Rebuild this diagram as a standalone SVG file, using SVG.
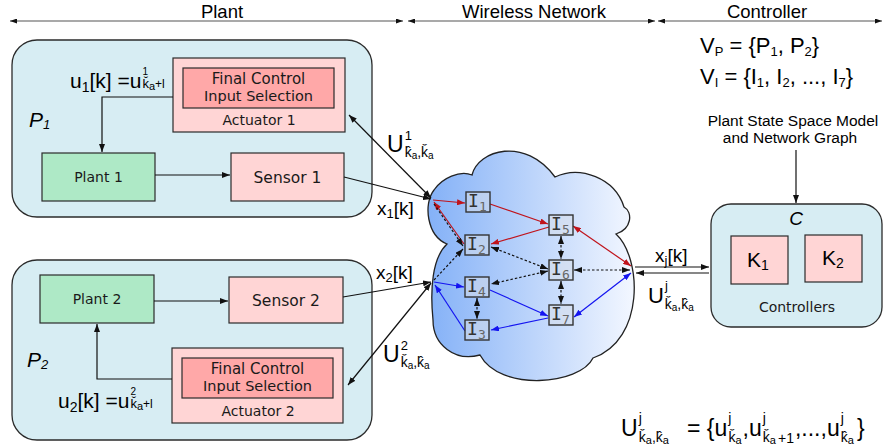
<svg xmlns="http://www.w3.org/2000/svg" width="886" height="446" viewBox="0 0 886 446">
<defs>
<style>
.panel{fill:#d7edf3;stroke:#2b2b2b;stroke-width:1.3}
.pink{fill:#ffd5d5;stroke:#2b2b2b;stroke-width:1.2}
.sel{fill:#ffa8a8;stroke:#2b2b2b;stroke-width:1.2}
.green{fill:#aee9c6;stroke:#2b2b2b;stroke-width:1.2}
.lbl{font-family:"DejaVu Sans",sans-serif;fill:#1a1a1a;text-anchor:middle}
.m{font-family:"Liberation Sans",Arial,sans-serif;fill:#000}
.mi{font-family:"Liberation Sans",Arial,sans-serif;font-style:italic;fill:#000}
.node rect{fill:#d8dde8;fill-opacity:.5;stroke:#333;stroke-width:1.4}
.node .i{font-family:"DejaVu Sans Mono",monospace;font-size:18px;fill:#333}
.node .s{font-family:"DejaVu Sans Mono",monospace;font-size:13px;fill:#666}
.c{fill:none;stroke-width:1.2}
.k{stroke:#111}
.r{stroke:#c0131b}
.b{stroke:#1414f0}
.d{stroke-dasharray:2.5 2}
.hdr{fill:none;stroke:#555;stroke-width:1.2}
</style>
<marker id="ak" viewBox="0 0 8 6" refX="8" refY="3" markerWidth="8" markerHeight="6" markerUnits="userSpaceOnUse" orient="auto-start-reverse"><path d="M0,0L8,3L0,6z" fill="#111"/></marker>
<marker id="ar" viewBox="0 0 8 6" refX="8" refY="3" markerWidth="8" markerHeight="6" markerUnits="userSpaceOnUse" orient="auto-start-reverse"><path d="M0,0L8,3L0,6z" fill="#c0131b"/></marker>
<marker id="ab" viewBox="0 0 8 6" refX="8" refY="3" markerWidth="8" markerHeight="6" markerUnits="userSpaceOnUse" orient="auto-start-reverse"><path d="M0,0L8,3L0,6z" fill="#1414f0"/></marker>
<marker id="ah" viewBox="0 0 7 5" refX="7" refY="2.5" markerWidth="7" markerHeight="5" markerUnits="userSpaceOnUse" orient="auto-start-reverse"><path d="M0,0L7,2.5L0,5z" fill="#111"/></marker>
<linearGradient id="sky" x1="0" y1="0" x2="1" y2="0">
<stop offset="0" stop-color="#84b1f7"/>
<stop offset="1" stop-color="#f3f7ff"/>
</linearGradient>
</defs>

<!-- section headers -->
<g id="headers">
<path class="hdr" d="M10,21H403" marker-start="url(#ah)" marker-end="url(#ah)"/>
<path class="hdr" d="M408,21H655" marker-start="url(#ah)" marker-end="url(#ah)"/>
<path class="hdr" d="M658,21H882" marker-start="url(#ah)" marker-end="url(#ah)"/>
<text class="m" font-size="18.5" x="222" y="18" text-anchor="middle">Plant</text>
<text class="m" font-size="18.5" x="534" y="18" text-anchor="middle">Wireless Network</text>
<text class="m" font-size="18.5" x="767" y="18" text-anchor="middle">Controller</text>
</g>

<!-- plant 1 -->
<g id="P1">
<rect class="panel" x="12" y="40" width="360" height="177" rx="25"/>
<text class="mi" x="29" y="127" font-size="21">P<tspan font-size="13" dy="2">1</tspan></text>
<text class="m" x="70" y="88" font-size="21">u<tspan font-size="14" dy="4">1</tspan><tspan dy="-4">[k] =u</tspan><tspan font-size="10" dx="1" dy="-13">1</tspan><tspan font-size="13" dx="-5.6" dy="13">ǩ</tspan><tspan font-size="11" dy="2">a</tspan><tspan font-size="12" dy="-2">+l</tspan></text>
</g>
<g id="Actuator1">
<rect class="pink" x="173" y="58" width="172" height="74"/>
<rect class="sel" x="183" y="68" width="151" height="40"/>
<text class="lbl" x="258.5" y="84" font-size="15">Final Control</text>
<text class="lbl" x="258.5" y="100.5" font-size="14.5">Input Selection</text>
<text class="lbl" x="259" y="125" font-size="14">Actuator 1</text>
</g>
<g id="Plant1">
<rect class="green" x="42" y="153" width="113" height="48"/>
<text class="lbl" x="98.5" y="182" font-size="14">Plant 1</text>
</g>
<g id="Sensor1">
<rect class="pink" x="231" y="153" width="113" height="48"/>
<text class="lbl" x="287.5" y="183" font-size="15.5">Sensor 1</text>
</g>

<!-- plant 2 -->
<g id="P2">
<rect class="panel" x="12" y="260" width="360" height="180" rx="25"/>
<text class="mi" x="27" y="367" font-size="21">P<tspan font-size="13" dy="2">2</tspan></text>
<text class="m" x="58" y="408" font-size="21">u<tspan font-size="14" dy="4">2</tspan><tspan dy="-4">[k] =u</tspan><tspan font-size="10" dx="1" dy="-13">2</tspan><tspan font-size="13" dx="-5.6" dy="13">ǩ</tspan><tspan font-size="11" dy="2">a</tspan><tspan font-size="12" dy="-2">+l</tspan></text>
</g>
<g id="Plant2">
<rect class="green" x="40" y="275" width="114" height="48"/>
<text class="lbl" x="97" y="304" font-size="14">Plant 2</text>
</g>
<g id="Sensor2">
<rect class="pink" x="229" y="277" width="114" height="46"/>
<text class="lbl" x="286" y="305.5" font-size="15.5">Sensor 2</text>
</g>
<g id="Actuator2">
<rect class="pink" x="172" y="348" width="171" height="75"/>
<rect class="sel" x="182" y="358" width="151" height="40"/>
<text class="lbl" x="257.5" y="374" font-size="15">Final Control</text>
<text class="lbl" x="257.5" y="390.5" font-size="14.5">Input Selection</text>
<text class="lbl" x="258" y="416" font-size="14">Actuator 2</text>
</g>

<!-- wireless network -->
<g id="network">
<path d="M447,244 C427,236 423,204 434,190 C442,178 460,170 472,175 C478,150 525,136 555,177 C580,165 615,178 624,207 C633,212 632,229 616,234 C642,258 645,340 593,358 C580,385 500,392 480,355 C455,362 433,345 433,320 C430,290 432,258 447,244 Z" fill="url(#sky)" stroke="#222" stroke-width="1.3"/>
</g>

<!-- controller -->
<g id="controllerInfo">
<text class="m" x="700" y="53" font-size="22">V<tspan font-size="13" dy="3">P</tspan><tspan dy="-3"> = {P</tspan><tspan font-size="13" dy="3">1</tspan><tspan dy="-3">, P</tspan><tspan font-size="13" dy="3">2</tspan><tspan dy="-3">}</tspan></text>
<text class="m" x="700" y="84" font-size="22">V<tspan font-size="13" dy="3">I</tspan><tspan dy="-3"> = {I</tspan><tspan font-size="13" dy="3">1</tspan><tspan dy="-3">, I</tspan><tspan font-size="13" dy="3">2</tspan><tspan dy="-3">, ..., I</tspan><tspan font-size="13" dy="3">7</tspan><tspan dy="-3">}</tspan></text>
<text class="m" x="793" y="126" font-size="15.5" text-anchor="middle">Plant State Space Model</text>
<text class="m" x="790" y="143" font-size="15.5" text-anchor="middle">and Network Graph</text>
</g>
<g id="C">
<rect class="panel" x="711" y="204" width="171" height="123" rx="20"/>
<text class="mi" x="796" y="225" font-size="19" text-anchor="middle">C</text>
<text class="lbl" x="797" y="312" font-size="14">Controllers</text>
</g>
<g id="K1">
<rect class="pink" x="731" y="236" width="57" height="48"/>
<text class="m" x="747" y="267" font-size="21">K<tspan font-size="14" dy="3">1</tspan></text>
</g>
<g id="K2">
<rect class="pink" x="805" y="235" width="57" height="47"/>
<text class="m" x="822" y="265" font-size="21">K<tspan font-size="14" dy="3">2</tspan></text>
</g>

<!-- connectors -->
<g id="connectors">
<path class="c k" d="M173,97H102V152" marker-end="url(#ak)"/>
<path class="c k" d="M155,175H230" marker-end="url(#ak)"/>
<path class="c k" d="M154,301H228" marker-end="url(#ak)"/>
<path class="c k" d="M172,379H97V324" marker-end="url(#ak)"/>
<path class="c k" d="M344,177L431,199" marker-end="url(#ak)"/>
<path class="c k" d="M349,115L431,198" marker-start="url(#ak)" marker-end="url(#ak)"/>
<path class="c k" d="M343,297L431,282" marker-end="url(#ak)"/>
<path class="c k" d="M431,283L348,385" marker-start="url(#ak)" marker-end="url(#ak)"/>
<path class="c k" d="M635,267H709" marker-end="url(#ak)"/>
<path class="c k" d="M709,273H636" marker-end="url(#ak)"/>
<path class="c k" d="M796,150V203" marker-end="url(#ak)"/>
<!-- red paths (plant 1) -->
<path class="c r" d="M433,200L465,203" marker-end="url(#ar)"/>
<path class="c r" d="M464,244L434,202" marker-end="url(#ar)"/>
<path class="c r" d="M490,204L548,224" marker-end="url(#ar)"/>
<path class="c r" d="M549,227L491,244" marker-end="url(#ar)"/>
<path class="c r" d="M573,226L631,266" marker-start="url(#ar)" marker-end="url(#ar)"/>
<!-- shared dotted links -->
<path class="c k d" d="M434,204L463,246" marker-end="url(#ak)"/>
<path class="c k d" d="M434,280L463,249" marker-end="url(#ak)"/>
<path class="c k d" d="M491,247L548,269" marker-start="url(#ak)" marker-end="url(#ak)"/>
<path class="c k d" d="M548,271L491,284" marker-start="url(#ak)" marker-end="url(#ak)"/>
<path class="c k d" d="M561,236V259" marker-start="url(#ak)" marker-end="url(#ak)"/>
<path class="c k d" d="M561,281V304" marker-start="url(#ak)" marker-end="url(#ak)"/>
<path class="c k d" d="M477,298V319" marker-start="url(#ak)" marker-end="url(#ak)"/>
<path class="c k d" d="M574,270H630" marker-start="url(#ak)" marker-end="url(#ak)"/>
<!-- blue paths (plant 2) -->
<path class="c b" d="M434,282L464,287" marker-end="url(#ab)"/>
<path class="c b" d="M465,331L435,285" marker-end="url(#ab)"/>
<path class="c b" d="M490,290L548,316" marker-end="url(#ab)"/>
<path class="c b" d="M548,318L491,330" marker-end="url(#ab)"/>
<path class="c b" d="M574,317L631,273" marker-start="url(#ab)" marker-end="url(#ab)"/>
</g>

<!-- relay nodes -->
<g id="I1" class="node"><rect x="466" y="192" width="24" height="20"/><text class="i" x="468" y="207">I</text><text class="s" x="479" y="211">1</text></g>
<g id="I2" class="node"><rect x="465" y="235" width="24" height="20"/><text class="i" x="467" y="250">I</text><text class="s" x="478" y="254">2</text></g>
<g id="I4" class="node"><rect x="465" y="277" width="24" height="20"/><text class="i" x="467" y="292">I</text><text class="s" x="478" y="296">4</text></g>
<g id="I3" class="node"><rect x="465" y="320" width="24" height="20"/><text class="i" x="467" y="335">I</text><text class="s" x="478" y="339">3</text></g>
<g id="I5" class="node"><rect x="549" y="215" width="24" height="20"/><text class="i" x="551" y="230">I</text><text class="s" x="562" y="234">5</text></g>
<g id="I6" class="node"><rect x="549" y="260" width="24" height="20"/><text class="i" x="551" y="275">I</text><text class="s" x="562" y="279">6</text></g>
<g id="I7" class="node"><rect x="549" y="305" width="24" height="20"/><text class="i" x="551" y="320">I</text><text class="s" x="562" y="324">7</text></g>

<!-- link labels -->
<g id="labels">
<text class="m" x="387" y="152" font-size="23">U<tspan font-size="13" dx="1" dy="-12">1</tspan><tspan font-size="14" dx="-7.2" dy="17">k̂</tspan><tspan font-size="10" dy="2">a</tspan><tspan font-size="14" dy="-2">,ǩ</tspan><tspan font-size="10" dy="2">a</tspan></text>
<text class="m" x="377" y="215" font-size="19">x<tspan font-size="13" dy="3">1</tspan><tspan dy="-3">[k]</tspan></text>
<text class="m" x="376" y="279" font-size="19">x<tspan font-size="13" dy="3">2</tspan><tspan dy="-3">[k]</tspan></text>
<text class="m" x="383" y="362" font-size="23">U<tspan font-size="13" dx="1" dy="-12">2</tspan><tspan font-size="14" dx="-7.2" dy="17">ǩ</tspan><tspan font-size="10" dy="2">a</tspan><tspan font-size="14" dy="-2">,k̂</tspan><tspan font-size="10" dy="2">a</tspan></text>
<text class="m" x="655" y="262" font-size="19">x<tspan font-size="13" dy="3">j</tspan><tspan dy="-3">[k]</tspan></text>
<text class="m" x="648" y="303" font-size="22">U<tspan font-size="13" dx="1" dy="-13">j</tspan><tspan font-size="14" dx="-3" dy="19">ǩ</tspan><tspan font-size="10" dy="2">a</tspan><tspan font-size="14" dy="-2">,k̂</tspan><tspan font-size="10" dy="2">a</tspan></text>
</g>

<!-- control sequence definition -->
<g id="definition">
<text class="m" x="621" y="436" font-size="23">U<tspan font-size="14" dx="1" dy="-13">j</tspan><tspan font-size="14" dx="-3" dy="19">ǩ</tspan><tspan font-size="11" dy="2">a</tspan><tspan font-size="14" dy="-2">,k̂</tspan><tspan font-size="11" dy="2">a</tspan></text>
<text class="m" x="687" y="436" font-size="23">= {u<tspan font-size="14" dx="1" dy="-13">j</tspan><tspan font-size="14" dx="-3" dy="19">ǩ</tspan><tspan font-size="11" dy="2">a</tspan><tspan dx="1" dy="-8">,u</tspan><tspan font-size="14" dx="1" dy="-13">j</tspan><tspan font-size="14" dx="-3" dy="19">ǩ</tspan><tspan font-size="11" dy="2">a</tspan><tspan font-size="14" dx="2" dy="-1">+1</tspan><tspan dx="1" dy="-7">,...,u</tspan><tspan font-size="14" dx="1" dy="-13">j</tspan><tspan font-size="14" dx="-3" dy="19">k̂</tspan><tspan font-size="11" dy="2">a</tspan><tspan dx="3" dy="-8">}</tspan></text>
</g>
</svg>
